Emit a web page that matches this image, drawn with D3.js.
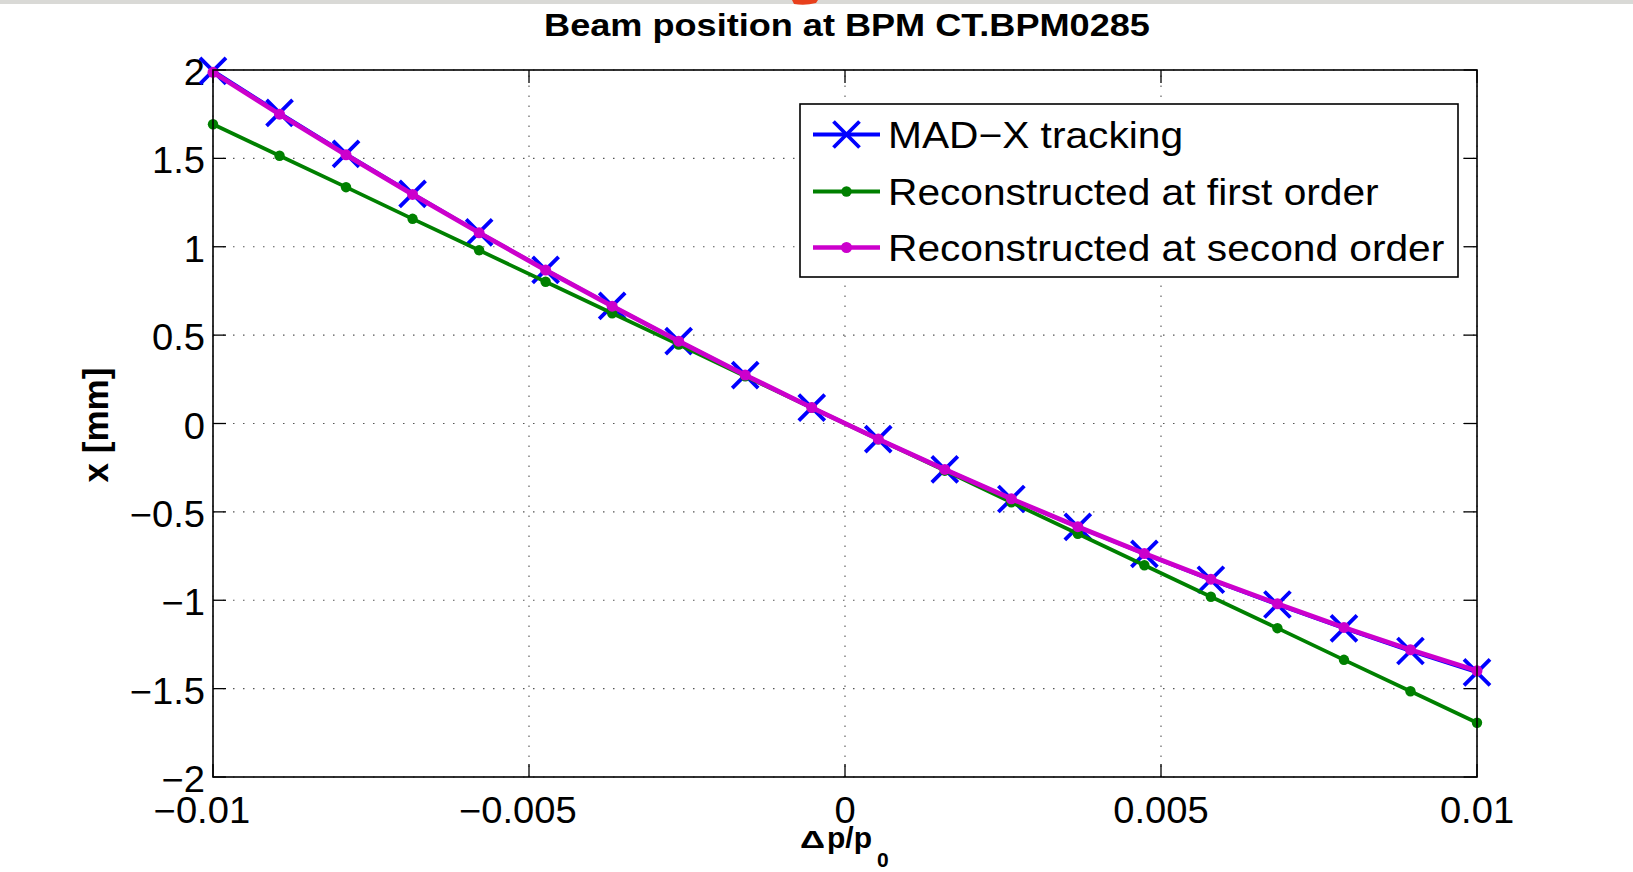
<!DOCTYPE html>
<html><head><meta charset="utf-8">
<script src="https://cdn.jsdelivr.net/npm/d3@7"></script>
<style>body{margin:0;background:#fff;} svg{display:block;}</style>
</head><body>
<svg id="chart" width="1633" height="872"></svg>
<script>
// ---------- data ----------
const titleText = "Beam position at BPM CT.BPM0285";
const seriesNames = ["MAD\u2212X tracking", "Reconstructed at first order", "Reconstructed at second order"];
const dp = [-0.01, -0.008947, -0.007895, -0.006842, -0.005789, -0.004737, -0.003684, -0.002632, -0.001579, -0.000526,
            0.000526, 0.001579, 0.002632, 0.003684, 0.004737, 0.005789, 0.006842, 0.007895, 0.008947, 0.01];
const madx = [1.995, 1.757, 1.525, 1.299, 1.081, 0.869, 0.665, 0.466, 0.274, 0.090,
              -0.088, -0.260, -0.427, -0.585, -0.738, -0.884, -1.024, -1.159, -1.287, -1.408];
const firstOrder = [1.693, 1.515, 1.337, 1.158, 0.980, 0.802, 0.624, 0.446, 0.267, 0.089,
                    -0.089, -0.267, -0.446, -0.624, -0.802, -0.980, -1.158, -1.337, -1.515, -1.693];
const secondOrder = [1.987, 1.750, 1.520, 1.296, 1.079, 0.868, 0.664, 0.466, 0.274, 0.090,
                     -0.088, -0.260, -0.426, -0.584, -0.736, -0.881, -1.020, -1.154, -1.280, -1.399];
const xTicks = [-0.01, -0.005, 0, 0.005, 0.01];
const xTickLabels = ["\u22120.01", "\u22120.005", "0", "0.005", "0.01"];
const yTicks = [-2, -1.5, -1, -0.5, 0, 0.5, 1, 1.5, 2];
const yTickLabels = ["\u22122", "\u22121.5", "\u22121", "\u22120.5", "0", "0.5", "1", "1.5", "2"];
const xLabelMain = "p/p";
const xLabelDelta = "\u0394";
const xLabelSub = "0";
const yLabelText = "x [mm]";

// ---------- layout ----------
const W = 1633, H = 872;
const L = 213, R = 1477, T = 70, B = 777;
const FONT = "'Liberation Sans', Arial, Helvetica, sans-serif";
const cBlue = "#0000ff", cGreen = "#008000", cMag = "#cc00cc";

const svg = d3.select("#chart");
svg.append("rect").attr("width", W).attr("height", H).attr("fill", "#fff");
// screenshot artefacts at the top edge
svg.append("rect").attr("x", 0).attr("y", 0).attr("width", W).attr("height", 4).attr("fill", "#d9d9d6");
svg.append("path").attr("d", "M792,0 L818,0 L816,3 Q805,6 794,4 Z").attr("fill", "#e8401c");

const x = d3.scaleLinear().domain([-0.01, 0.01]).range([L, R]);
const y = d3.scaleLinear().domain([-2, 2]).range([B, T]);

function txt(parent, px, py, str, size, opts = {}) {
  return parent.append("text")
    .attr("transform", `translate(${px},${py}) ${opts.rot ? `rotate(${opts.rot})` : ""} scale(${opts.sx || 1},1)`)
    .attr("font-family", FONT)
    .attr("font-size", size)
    .attr("font-weight", opts.bold ? "bold" : "normal")
    .attr("text-anchor", opts.anchor || "start")
    .attr("fill", "#000")
    .text(str);
}

// ---------- grid ----------
const grid = svg.append("g").attr("stroke", "#555").attr("stroke-width", 1.1).attr("stroke-dasharray", "1.5,8.5");
grid.selectAll("line.gx").data(xTicks).join("line")
  .attr("x1", d => x(d)).attr("x2", d => x(d)).attr("y1", B).attr("y2", T);
grid.selectAll("line.gy").data(yTicks).join("line")
  .attr("y1", d => y(d)).attr("y2", d => y(d)).attr("x1", L).attr("x2", R);

// ---------- ticks (inward, all four sides) ----------
const tl = 13;
const ticks = svg.append("g").attr("stroke", "#000").attr("stroke-width", 1.3);
xTicks.forEach(d => {
  ticks.append("line").attr("x1", x(d)).attr("x2", x(d)).attr("y1", B).attr("y2", B - tl);
  ticks.append("line").attr("x1", x(d)).attr("x2", x(d)).attr("y1", T).attr("y2", T + tl);
});
yTicks.forEach(d => {
  ticks.append("line").attr("y1", y(d)).attr("y2", y(d)).attr("x1", L).attr("x2", L + tl);
  ticks.append("line").attr("y1", y(d)).attr("y2", y(d)).attr("x1", R).attr("x2", R - tl);
});

// ---------- tick labels ----------
const tickSize = 36, tickSx = 1.06;
const meas = svg.append("text").attr("font-family", FONT).attr("font-size", tickSize).text("\u2212");
const minusW = meas.node().getComputedTextLength() * tickSx;
meas.remove();
const labels = svg.append("g");
xTicks.forEach((d, i) => {
  const s = xTickLabels[i];
  const shift = s.startsWith("\u2212") ? minusW / 2 : 0;
  txt(labels, x(d) - shift, 823, s, tickSize, {anchor: "middle", sx: tickSx});
});
yTicks.forEach((d, i) => {
  txt(labels, 205, y(d) + 15, yTickLabels[i], tickSize, {anchor: "end", sx: tickSx});
});

// ---------- axis labels & title ----------
txt(svg, 847, 36, titleText, 31, {bold: true, anchor: "middle", sx: 1.165});
txt(svg, 108, 425, yLabelText, 35, {bold: true, anchor: "middle", rot: -90});
svg.append("text").attr("x", 800).attr("y", 848).attr("font-family", FONT).attr("font-size", 23)
  .attr("font-weight", "bold").attr("textLength", 25).attr("lengthAdjust", "spacingAndGlyphs").text(xLabelDelta);
txt(svg, 827, 848, xLabelMain, 30, {bold: true});
txt(svg, 877, 867, xLabelSub, 21, {bold: true});

// ---------- series ----------
const line = d3.line().x(d => x(d[0])).y(d => y(d[1]));
const plot = svg.append("g");
const xMark = "M-13,-13L13,13M-13,13L13,-13";

function drawSeries(vals, color, width, marker) {
  const pts = dp.map((d, i) => [d, vals[i]]);
  plot.append("path").datum(pts).attr("d", line).attr("fill", "none")
    .attr("stroke", color).attr("stroke-width", width).attr("stroke-linejoin", "round");
  if (marker === "x") {
    plot.selectAll(null).data(pts).join("path")
      .attr("transform", d => `translate(${x(d[0])},${y(d[1])})`)
      .attr("d", xMark).attr("stroke", color).attr("stroke-width", 3.8).attr("fill", "none");
  } else {
    plot.selectAll(null).data(pts).join("circle")
      .attr("cx", d => x(d[0])).attr("cy", d => y(d[1])).attr("r", marker).attr("fill", color);
  }
}
drawSeries(madx, cBlue, 3.6, "x");
drawSeries(firstOrder, cGreen, 3.7, 5.2);
drawSeries(secondOrder, cMag, 4.8, 5.5);

// ---------- axes box ----------
svg.append("rect").attr("x", L).attr("y", T).attr("width", R - L).attr("height", B - T)
  .attr("fill", "none").attr("stroke", "#000").attr("stroke-width", 1.6);

// ---------- legend ----------
const lg = svg.append("g");
lg.append("rect").attr("x", 800).attr("y", 104).attr("width", 658).attr("height", 173)
  .attr("fill", "#fff").attr("stroke", "#000").attr("stroke-width", 1.6);
const legColors = [cBlue, cGreen, cMag];
const legMarks = ["x", 5.2, 5.5];
const legWidths = [3.8, 3.8, 4.6];
const rowBase = [148, 205, 261];
seriesNames.forEach((name, i) => {
  const cy = rowBase[i] - 13.5;
  lg.append("line").attr("x1", 813).attr("x2", 880).attr("y1", cy).attr("y2", cy)
    .attr("stroke", legColors[i]).attr("stroke-width", legWidths[i]);
  if (legMarks[i] === "x") {
    lg.append("path").attr("transform", `translate(846.5,${cy})`).attr("d", xMark)
      .attr("stroke", legColors[i]).attr("stroke-width", 3.8).attr("fill", "none");
  } else {
    lg.append("circle").attr("cx", 846.5).attr("cy", cy).attr("r", legMarks[i]).attr("fill", legColors[i]);
  }
  txt(lg, 888, rowBase[i], name, 37, {sx: 1.1});
});
</script>
</body></html>
